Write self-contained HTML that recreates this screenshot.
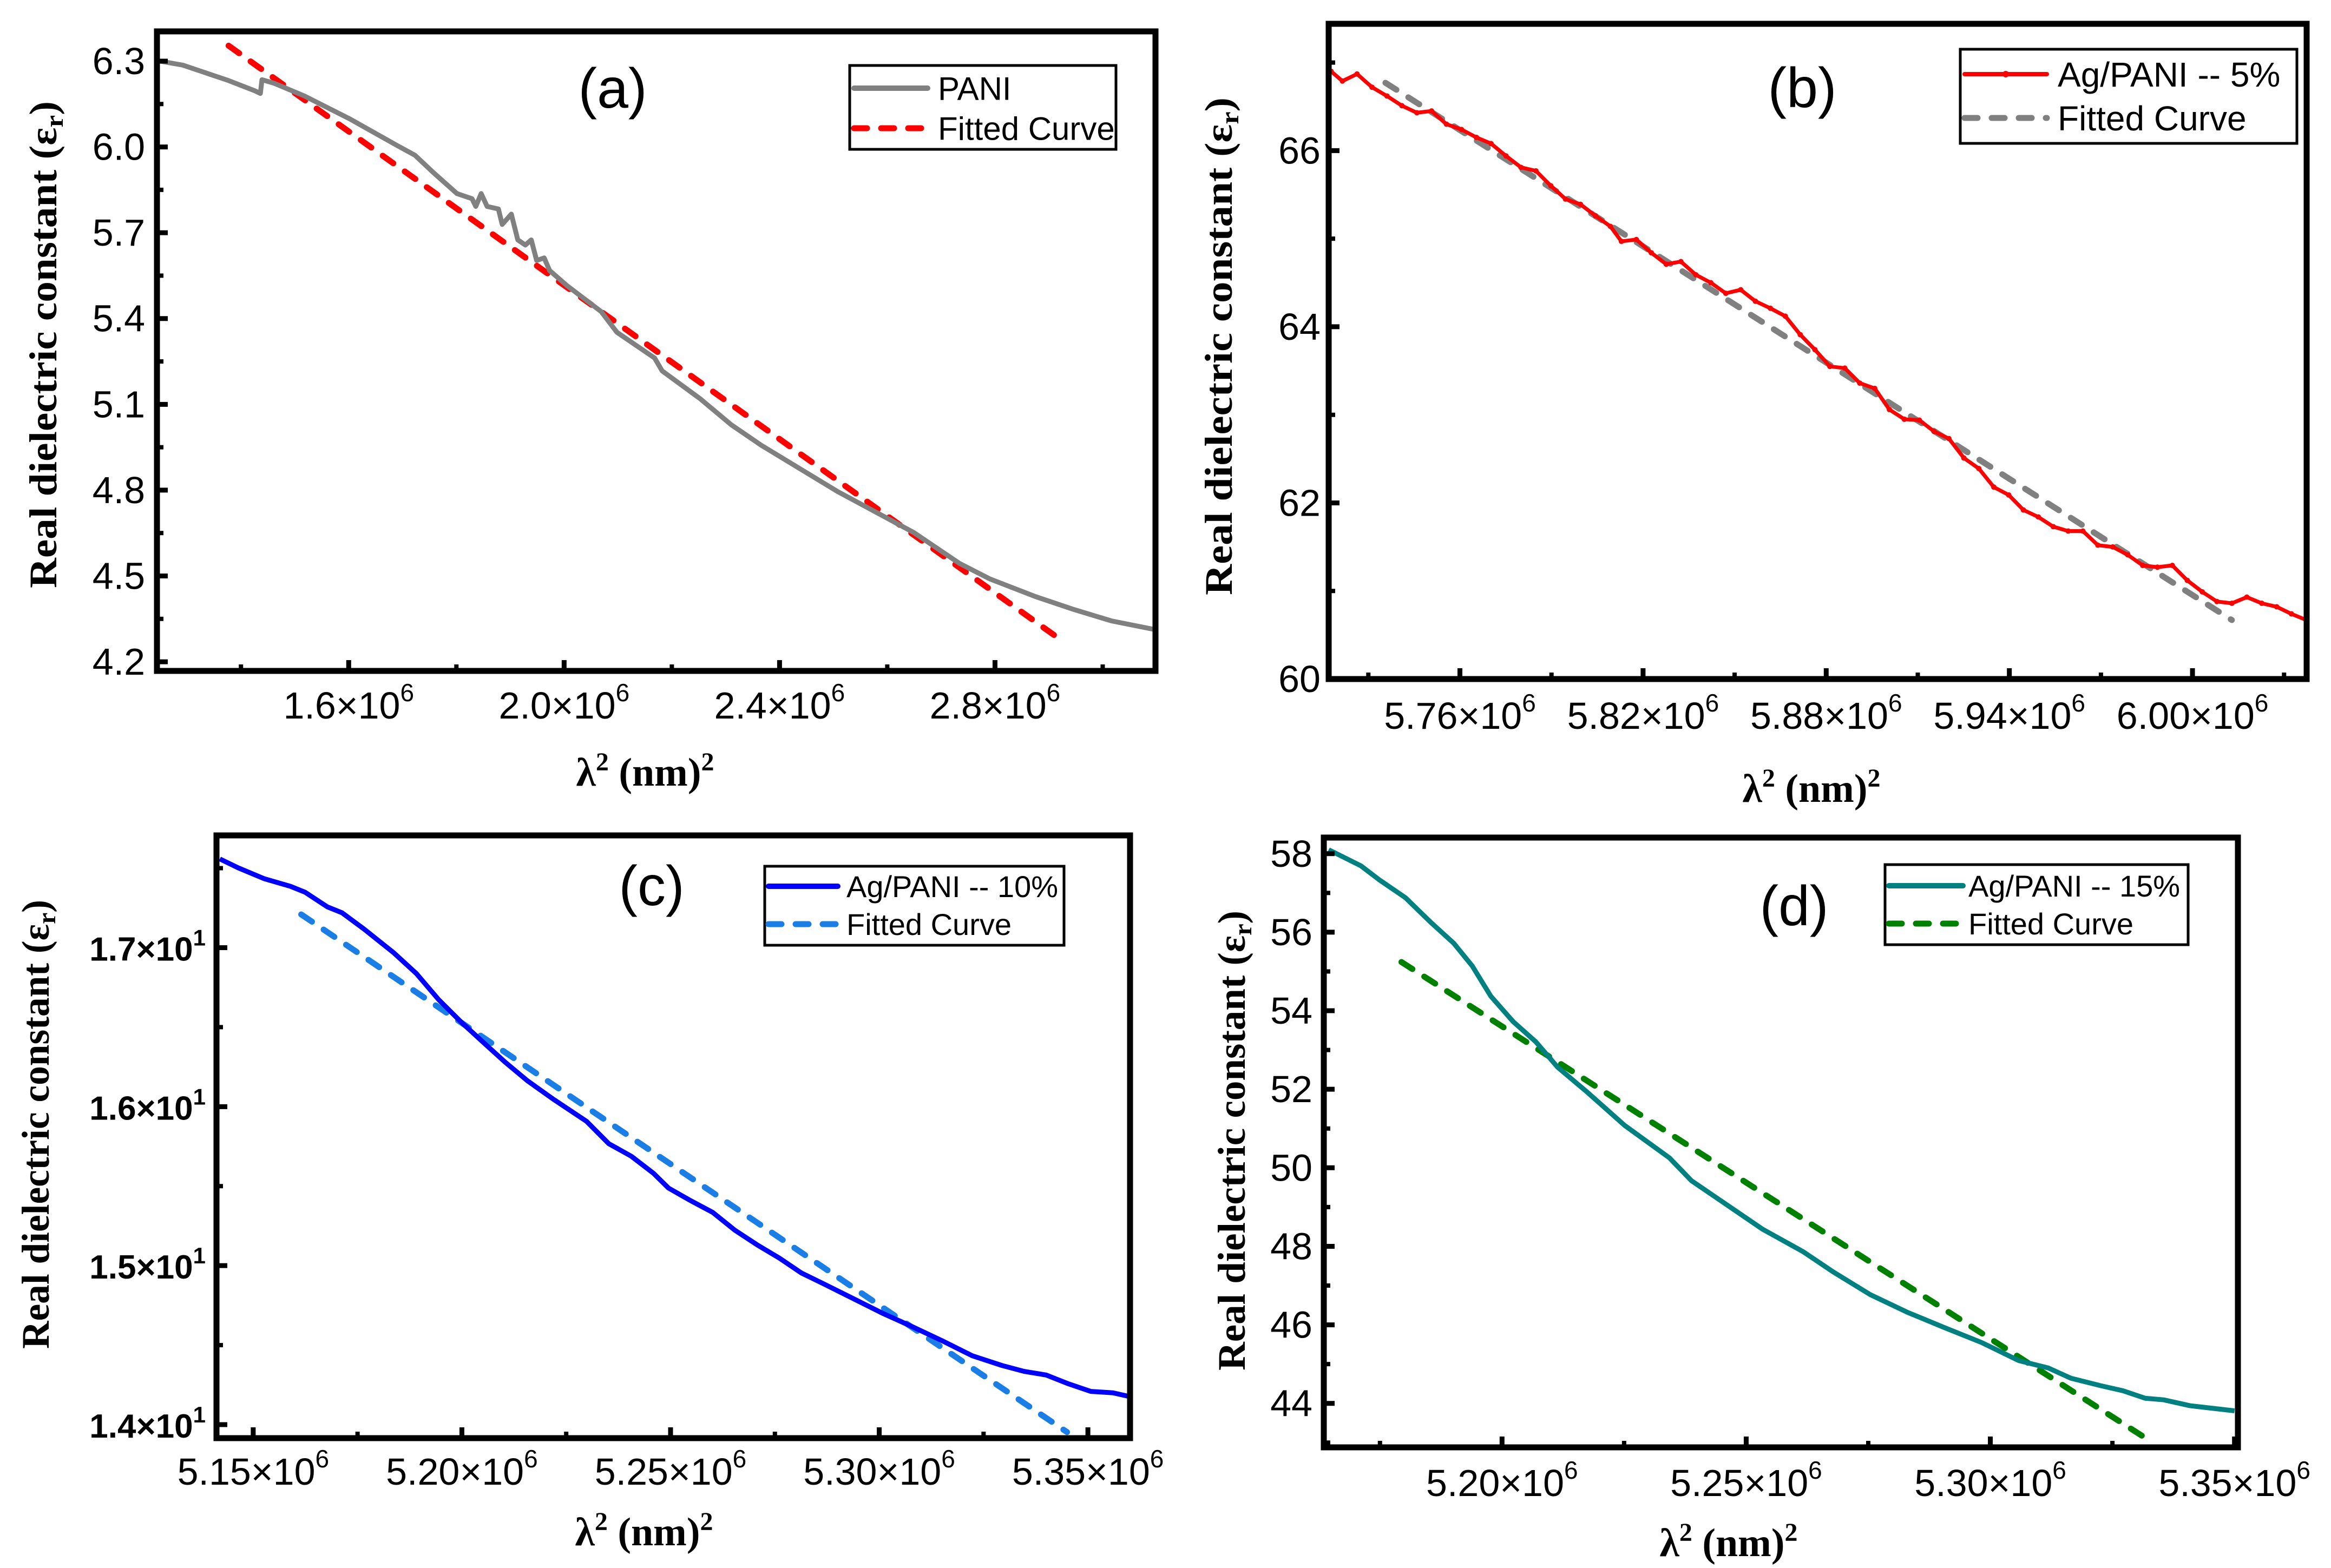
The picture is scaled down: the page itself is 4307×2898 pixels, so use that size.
<!DOCTYPE html>
<html><head><meta charset="utf-8"><style>
html,body{margin:0;padding:0;background:#fff;}
svg{display:block;}
text{font-family:"Liberation Sans",Arial,sans-serif;}
.serif{font-family:"Liberation Serif","Times New Roman",serif;font-weight:bold;}
</style></head><body>
<svg id="fig" xmlns="http://www.w3.org/2000/svg" width="4307" height="2898" viewBox="0 0 4307 2898"></svg>
<script>
// ---------- Panel (a) data: x in units of 1e6 nm^2 ----------
const aX = [1.2495,1.292,1.377,1.426,1.436,1.439,1.461,1.518,1.603,1.688,1.723,1.758,1.801,1.829,1.836,1.846,1.857,1.878,1.885,1.902,1.914,1.928,1.939,1.949,1.963,1.973,2.006,2.069,2.098,2.126,2.168,2.182,2.253,2.310,2.366,2.507,2.649,2.734,2.790,2.875,2.946,3.016,3.101];
const aY = [6.30,6.286,6.232,6.196,6.187,6.235,6.223,6.178,6.097,6.007,5.971,5.909,5.837,5.819,5.792,5.837,5.792,5.783,5.729,5.765,5.675,5.657,5.675,5.603,5.612,5.568,5.514,5.424,5.352,5.316,5.262,5.217,5.119,5.029,4.957,4.796,4.652,4.544,4.490,4.428,4.383,4.343,4.311];
const aFitX = [1.377,2.910];
const aFitY = [6.354,4.293];
const aXTicks = [1.6,2.0,2.4,2.8];
const aXTickLabels = ["1.6","2.0","2.4","2.8"];
const aYTicks = [4.2,4.5,4.8,5.1,5.4,5.7,6.0,6.3];
const aYTickLabels = ["4.2","4.5","4.8","5.1","5.4","5.7","6.0","6.3"];

// ---------- Panel (b) ----------
const bX = [5.7178,5.7215,5.7263,5.7312,5.7361,5.7410,5.7459,5.7507,5.7556,5.7605,5.7654,5.7702,5.7751,5.7800,5.7849,5.7898,5.7946,5.7995,5.8044,5.8093,5.8129,5.8178,5.8227,5.8276,5.8324,5.8373,5.8422,5.8471,5.8520,5.8568,5.8617,5.8666,5.8715,5.8763,5.8812,5.8861,5.8910,5.8959,5.9007,5.9056,5.9105,5.9154,5.9202,5.9251,5.9300,5.9349,5.9398,5.9446,5.9495,5.9544,5.9593,5.9641,5.9690,5.9739,5.9788,5.9837,5.9885,5.9934,5.9983,6.0032,6.0080,6.0129,6.0178,6.0227,6.0276,6.0324,6.0373];
const bY = [66.90,66.79,66.87,66.72,66.62,66.51,66.43,66.45,66.30,66.24,66.15,66.08,65.94,65.81,65.77,65.60,65.45,65.39,65.26,65.14,64.97,64.99,64.84,64.71,64.74,64.59,64.50,64.38,64.42,64.29,64.21,64.12,63.91,63.74,63.55,63.53,63.36,63.30,63.06,62.95,62.94,62.81,62.73,62.51,62.39,62.18,62.09,61.92,61.84,61.73,61.68,61.68,61.52,61.50,61.41,61.29,61.27,61.29,61.12,60.99,60.88,60.86,60.93,60.86,60.82,60.74,60.67];
const bFitX = [5.7356,6.0129];
const bFitY = [66.77,60.67];
const bXTicks = [5.76,5.82,5.88,5.94,6.00];
const bXTickLabels = ["5.76","5.82","5.88","5.94","6.00"];
const bYTicks = [60,62,64,66];
const bYTickLabels = ["60","62","64","66"];

// ---------- Panel (c) ----------
const cX = [5.1420,5.1464,5.1527,5.1589,5.1624,5.1678,5.1713,5.1766,5.1837,5.1891,5.1944,5.1997,5.2051,5.2104,5.2157,5.2219,5.2299,5.2352,5.2406,5.2459,5.2495,5.2548,5.2601,5.2654,5.2708,5.2761,5.2814,5.2868,5.2939,5.3010,5.3081,5.3152,5.3223,5.3294,5.3347,5.3400,5.3454,5.3507,5.3560,5.3599];
const cY = [17.558,17.502,17.433,17.386,17.349,17.256,17.219,17.116,16.967,16.837,16.674,16.535,16.405,16.279,16.163,16.047,15.907,15.767,15.688,15.581,15.488,15.409,15.335,15.223,15.130,15.047,14.953,14.884,14.791,14.698,14.614,14.526,14.433,14.372,14.335,14.312,14.256,14.209,14.200,14.177];
const cFitX = [5.1615,5.3450];
const cFitY = [17.209,13.953];
const cXTicks = [5.15,5.20,5.25,5.30,5.35];
const cXTickLabels = ["5.15","5.20","5.25","5.30","5.35"];
const cYTicks = [14,15,16,17];
const cYTickLabels = ["1.4","1.5","1.6","1.7"];

// ---------- Panel (d) ----------
const dX = [5.1645,5.1711,5.1749,5.1802,5.1855,5.1901,5.1939,5.1977,5.2023,5.2069,5.2114,5.2175,5.2251,5.2343,5.2388,5.2434,5.2480,5.2533,5.2617,5.2678,5.2754,5.2830,5.2906,5.2982,5.3058,5.3119,5.3165,5.3226,5.3272,5.3317,5.3355,5.3409,5.3500];
const dY = [58.10,57.69,57.33,56.88,56.24,55.72,55.14,54.37,53.72,53.21,52.56,51.92,51.08,50.25,49.67,49.28,48.89,48.44,47.86,47.35,46.77,46.32,45.93,45.55,45.09,44.90,44.64,44.45,44.32,44.13,44.09,43.94,43.81];
const dFitX = [5.1794,5.3320];
const dFitY = [55.24,43.10];
const dXTicks = [5.20,5.25,5.30,5.35];
const dXTickLabels = ["5.20","5.25","5.30","5.35"];
const dYTicks = [44,46,48,50,52,54,56,58];
const dYTickLabels = ["44","46","48","50","52","54","56","58"];

const NS = "http://www.w3.org/2000/svg";
const svg = document.getElementById("fig");
function mk(tag, attrs, parent){ const e=document.createElementNS(NS,tag); for(const k in attrs) e.setAttribute(k,attrs[k]); (parent||svg).appendChild(e); return e; }

function drawPanel(p){
  const g = mk("g",{});
  
  
  const [L,T,R,B]=p.frame;
  const sx = v => L + (v-p.xd[0])/(p.xd[1]-p.xd[0])*(R-L);
  const sy = v => B - (v-p.yd[0])/(p.yd[1]-p.yd[0])*(B-T);
  const clip = mk("clipPath",{id:"clip-"+p.id}, g);
  mk("rect",{x:L,y:T,width:R-L,height:B-T}, clip);

  const fit = mk("polyline",{points:p.fx.map((v,i)=>sx(v)+","+sy(p.fy[i])).join(" "),fill:"none",stroke:p.fitColor,"stroke-width":11,"stroke-dasharray":"24 26","stroke-linecap":"round","clip-path":"url(#clip-"+p.id+")"}, g);
  
  
  const ln = mk("polyline",{points:p.x.map((v,i)=>sx(v)+","+sy(p.y[i])).join(" "),fill:"none",stroke:p.color,"stroke-width":p.lw,"stroke-linejoin":"round","clip-path":"url(#clip-"+p.id+")"}, g);
  
  
  if(p.markers){
    p.x.forEach((v,i)=>{
      const c = mk("circle",{cx:sx(v),cy:sy(p.y[i]),r:5,fill:p.color,"clip-path":"url(#clip-"+p.id+")"}, g);
      
      
    });
  }

  p.xt.forEach((v,i)=>{
    const x=sx(v);
    mk("line",{x1:x,y1:B,x2:x,y2:B-20,stroke:"#000","stroke-width":9}, g);
    const t = mk("text",{x:x,y:p.xLabY,"text-anchor":"middle","font-size":70}, g);
    
    
    t.textContent = p.xtl[i]+"×10";
    const s = mk("tspan",{"font-size":46,dy:-32}, t); s.textContent="6";
  });
  p.xm.forEach(v=>{ const x=sx(v); mk("line",{x1:x,y1:B,x2:x,y2:B-12,stroke:"#000","stroke-width":8}, g); });
  p.yt.forEach((v,i)=>{
    const y=sy(v);
    mk("line",{x1:L,y1:y,x2:L+20,y2:y,stroke:"#000","stroke-width":9}, g);
    const t = mk("text",{x:p.yLabX,y:y+24,"text-anchor":"end","font-size":p.ySci?62:70,"font-weight":p.ySci?"bold":"normal"}, g);
    
    
    t.textContent = p.ytl[i] + (p.ySci?"×10":"");
    if(p.ySci){ const s=mk("tspan",{"font-size":42,dy:-28}, t); s.textContent="1"; }
  });
  p.ym.forEach(v=>{ const y=sy(v); mk("line",{x1:L,y1:y,x2:L+12,y2:y,stroke:"#000","stroke-width":8}, g); });

  const fr = mk("rect",{x:L,y:T,width:R-L,height:B-T,fill:"none",stroke:"#000","stroke-width":11}, g);
  
  

  const xt = mk("text",{x:p.xTitle[0],y:p.xTitle[1],"text-anchor":"middle","font-size":74,class:"serif"}, g);
  
  
  xt.appendChild(document.createTextNode("λ"));
  let s1=mk("tspan",{"font-size":48,dy:-28}, xt); s1.textContent="2";
  let s2=mk("tspan",{dy:28}, xt); s2.textContent=" (nm)";
  let s3=mk("tspan",{"font-size":48,dy:-28}, xt); s3.textContent="2";

  const yt = mk("text",{x:0,y:0,"text-anchor":"middle","font-size":72,class:"serif",textLength:p.yLen,lengthAdjust:"spacingAndGlyphs",transform:"translate("+p.yTitle[0]+","+p.yTitle[1]+") rotate(-90)"}, g);
  
  
  yt.appendChild(document.createTextNode("Real dielectric constant (ε"));
  let r1=mk("tspan",{"font-size":48,dy:12}, yt); r1.textContent="r";
  let r2=mk("tspan",{dy:-12}, yt); r2.textContent=")";

  const lb = mk("text",{x:p.lab[0],y:p.lab[1]+36,"text-anchor":"middle","font-size":104}, g);
  
  
  lb.textContent = "("+p.id+")";

  const lg = mk("g",{}, g);
  
  
  const [lx1,ly1,lx2,ly2]=p.leg;
  mk("rect",{x:lx1,y:ly1,width:lx2-lx1,height:ly2-ly1,fill:"#fff",stroke:"#000","stroke-width":5}, lg);
  const e1 = mk("line",{x1:p.legLine[0],y1:p.legRows[0],x2:p.legLine[1],y2:p.legRows[0],stroke:p.color,"stroke-width":p.lw+1,"stroke-linecap":"round"}, lg);
  
  
  if(p.markers) mk("circle",{cx:(p.legLine[0]+p.legLine[1])/2,cy:p.legRows[0],r:6,fill:p.color}, lg);
  const e2 = mk("line",{x1:p.legLine[0],y1:p.legRows[1],x2:p.legLine[1],y2:p.legRows[1],stroke:p.fitColor,"stroke-width":11,"stroke-dasharray":"24 26","stroke-linecap":"round"}, lg);
  
  
  const t1 = mk("text",{x:p.legText,y:p.legRows[0]+p.legFs*0.36,"font-size":p.legFs}, lg); t1.textContent=p.name;
  const t2 = mk("text",{x:p.legText,y:p.legRows[1]+p.legFs*0.36,"font-size":p.legFs}, lg); t2.textContent="Fitted Curve";
}

drawPanel({id:"a",frame:[290,58,2135,1240],xd:[1.244,3.098],yd:[4.168,6.404],
  x:aX,y:aY,fx:aFitX,fy:aFitY,xt:aXTicks,xtl:aXTickLabels,xm:[1.4,1.8,2.2,2.6,3.0],
  yt:aYTicks,ytl:aYTickLabels,ym:[4.35,4.65,4.95,5.25,5.55,5.85,6.15],
  color:"#808080",fitColor:"#ff0000",lw:9,markers:false,ySci:false,
  xLabY:1328,yLabX:268,xTitle:[1192,1452],yTitle:[104,637],yLen:900,lab:[1132,163],
  leg:[1570,121,2062,276],legRows:[163,237],legLine:[1578,1714],legText:[1733],legFs:60,name:"PANI"});
drawPanel({id:"b",frame:[2455,44,4262,1255],xd:[5.717,6.0374],yd:[60,67.44],
  x:bX,y:bY,fx:bFitX,fy:bFitY,xt:bXTicks,xtl:bXTickLabels,xm:[5.73,5.79,5.85,5.91,5.97,6.03],
  yt:bYTicks,ytl:bYTickLabels,ym:[61,63,65,67],
  color:"#ff0000",fitColor:"#808080",lw:7,markers:true,ySci:false,
  xLabY:1347,yLabX:2440,xTitle:[3347,1482],yTitle:[2276,640],yLen:920,lab:[3330,162],
  leg:[3622,91,4244,265],legRows:[137,218],legLine:[3630,3782],legText:[3802],legFs:64,name:"Ag/PANI -- 5%"});
drawPanel({id:"c",frame:[400,1544,2088,2658],xd:[5.1412,5.3601],yd:[13.915,17.706],
  x:cX,y:cY,fx:cFitX,fy:cFitY,xt:cXTicks,xtl:cXTickLabels,xm:[5.175,5.225,5.275,5.325],
  yt:cYTicks,ytl:cYTickLabels,ym:[14.5,15.5,16.5,17.5],
  color:"#0000ff",fitColor:"#1a7ee6",lw:9,markers:false,ySci:true,
  xLabY:2744,yLabX:380,xTitle:[1190,2856],yTitle:[90,2078],yLen:830,lab:[1204,1637],
  leg:[1413,1601,1966,1747],legRows:[1638,1708],legLine:[1420,1548],legText:[1564],legFs:56,name:"Ag/PANI -- 10%"});
drawPanel({id:"d",frame:[2446,1548,4135,2675],xd:[5.1635,5.3507],yd:[42.88,58.41],
  x:dX,y:dY,fx:dFitX,fy:dFitY,xt:dXTicks,xtl:dXTickLabels,xm:[5.175,5.225,5.275,5.325],
  yt:dYTicks,ytl:dYTickLabels,ym:[43,45,47,49,51,53,55,57],
  color:"#008080",fitColor:"#008000",lw:9,markers:false,ySci:false,
  xLabY:2765,yLabX:2425,xTitle:[3194,2876],yTitle:[2300,2108],yLen:850,lab:[3315,1674],
  leg:[3483,1598,4043,1746],legRows:[1637,1707],legLine:[3490,3627],legText:[3637],legFs:56,name:"Ag/PANI -- 15%"});
</script>
</body></html>
